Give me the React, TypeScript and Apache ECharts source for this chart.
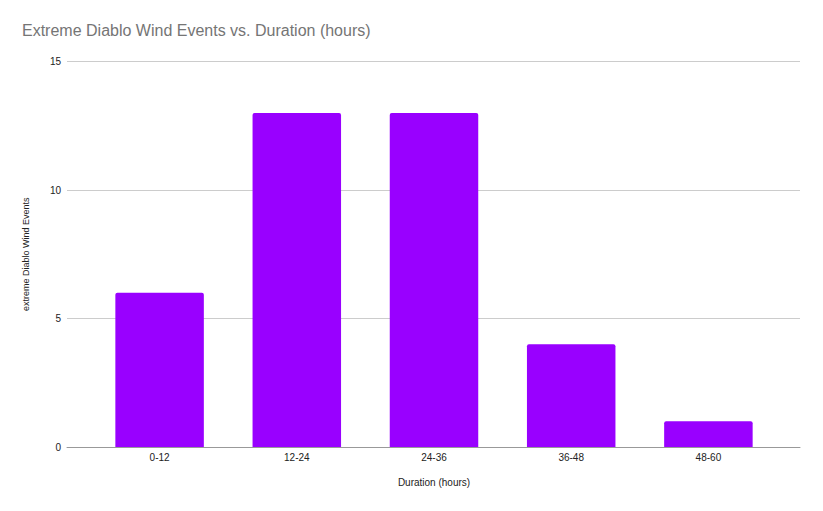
import React, { useEffect, useRef } from "react";
import * as echarts from "echarts";

const categories = ["0-12", "12-24", "24-36", "36-48", "48-60"];
const eventCounts = [6, 13, 13, 4, 1];
const yTicks = { min: 0, max: 15, interval: 5 };

const titleText = "Extreme Diablo Wind Events vs. Duration (hours)";
const xAxisTitle = "Duration (hours)";
const yAxisTitle = "extreme Diablo Wind Events";

export default function App() {
  const ref = useRef<HTMLDivElement>(null);
  useEffect(() => {
    if (!ref.current) return;
    const chart = echarts.init(ref.current, null, { renderer: "svg" });
    const font = "Liberation Sans, Arial, sans-serif";
    chart.setOption({
      animation: false,
      backgroundColor: "#ffffff",
      textStyle: { fontFamily: font },
      title: {
        text: titleText,
        left: 9,
        top: 9,
        textStyle: { fontFamily: font, fontSize: 16, fontWeight: "normal", color: "#757575" },
      },
      grid: [
        { left: 59, right: 15, top: 53.5, bottom: 56, containLabel: false },
        { left: 83, right: 38, top: 53.5, bottom: 56, containLabel: false },
      ],
      xAxis: [
        {
          type: "value",
          gridIndex: 0,
          min: 0,
          max: 1,
          axisLine: { show: true, onZero: false, lineStyle: { color: "#999999", width: 1 } },
          axisTick: { show: false },
          axisLabel: { show: false },
          splitLine: { show: false },
        },
        {
          type: "category",
          gridIndex: 1,
          data: categories,
          axisLine: { show: false },
          axisTick: { show: false },
          axisLabel: { color: "#222222", fontSize: 10, margin: 5, fontFamily: font },
          name: xAxisTitle,
          nameLocation: "middle",
          nameGap: 30,
          nameTextStyle: { color: "#222222", fontSize: 10, fontFamily: font },
        },
      ],
      yAxis: [
        {
          type: "value",
          gridIndex: 0,
          min: yTicks.min,
          max: yTicks.max,
          interval: yTicks.interval,
          axisLine: { show: false },
          axisTick: { show: false },
          axisLabel: { color: "#222222", fontSize: 10, margin: 6, fontFamily: font },
          splitLine: { lineStyle: { color: "#cccccc", width: 1 } },
          name: yAxisTitle,
          nameLocation: "middle",
          nameGap: 37,
          nameRotate: 90,
          nameTextStyle: { color: "#222222", fontSize: 9, fontFamily: font },
        },
        {
          type: "value",
          gridIndex: 1,
          min: yTicks.min,
          max: yTicks.max,
          interval: yTicks.interval,
          show: false,
          splitLine: { show: false },
        },
      ],
      series: [
        {
          type: "bar",
          xAxisIndex: 1,
          yAxisIndex: 1,
          data: eventCounts,
          barWidth: "64.5%",
          itemStyle: { color: "#9900ff", borderRadius: [2, 2, 0, 0] },
          z: 1,
        },
      ],
    });
    return () => chart.dispose();
  }, []);
  return <div ref={ref} style={{ width: 807, height: 495 }} />;
}
